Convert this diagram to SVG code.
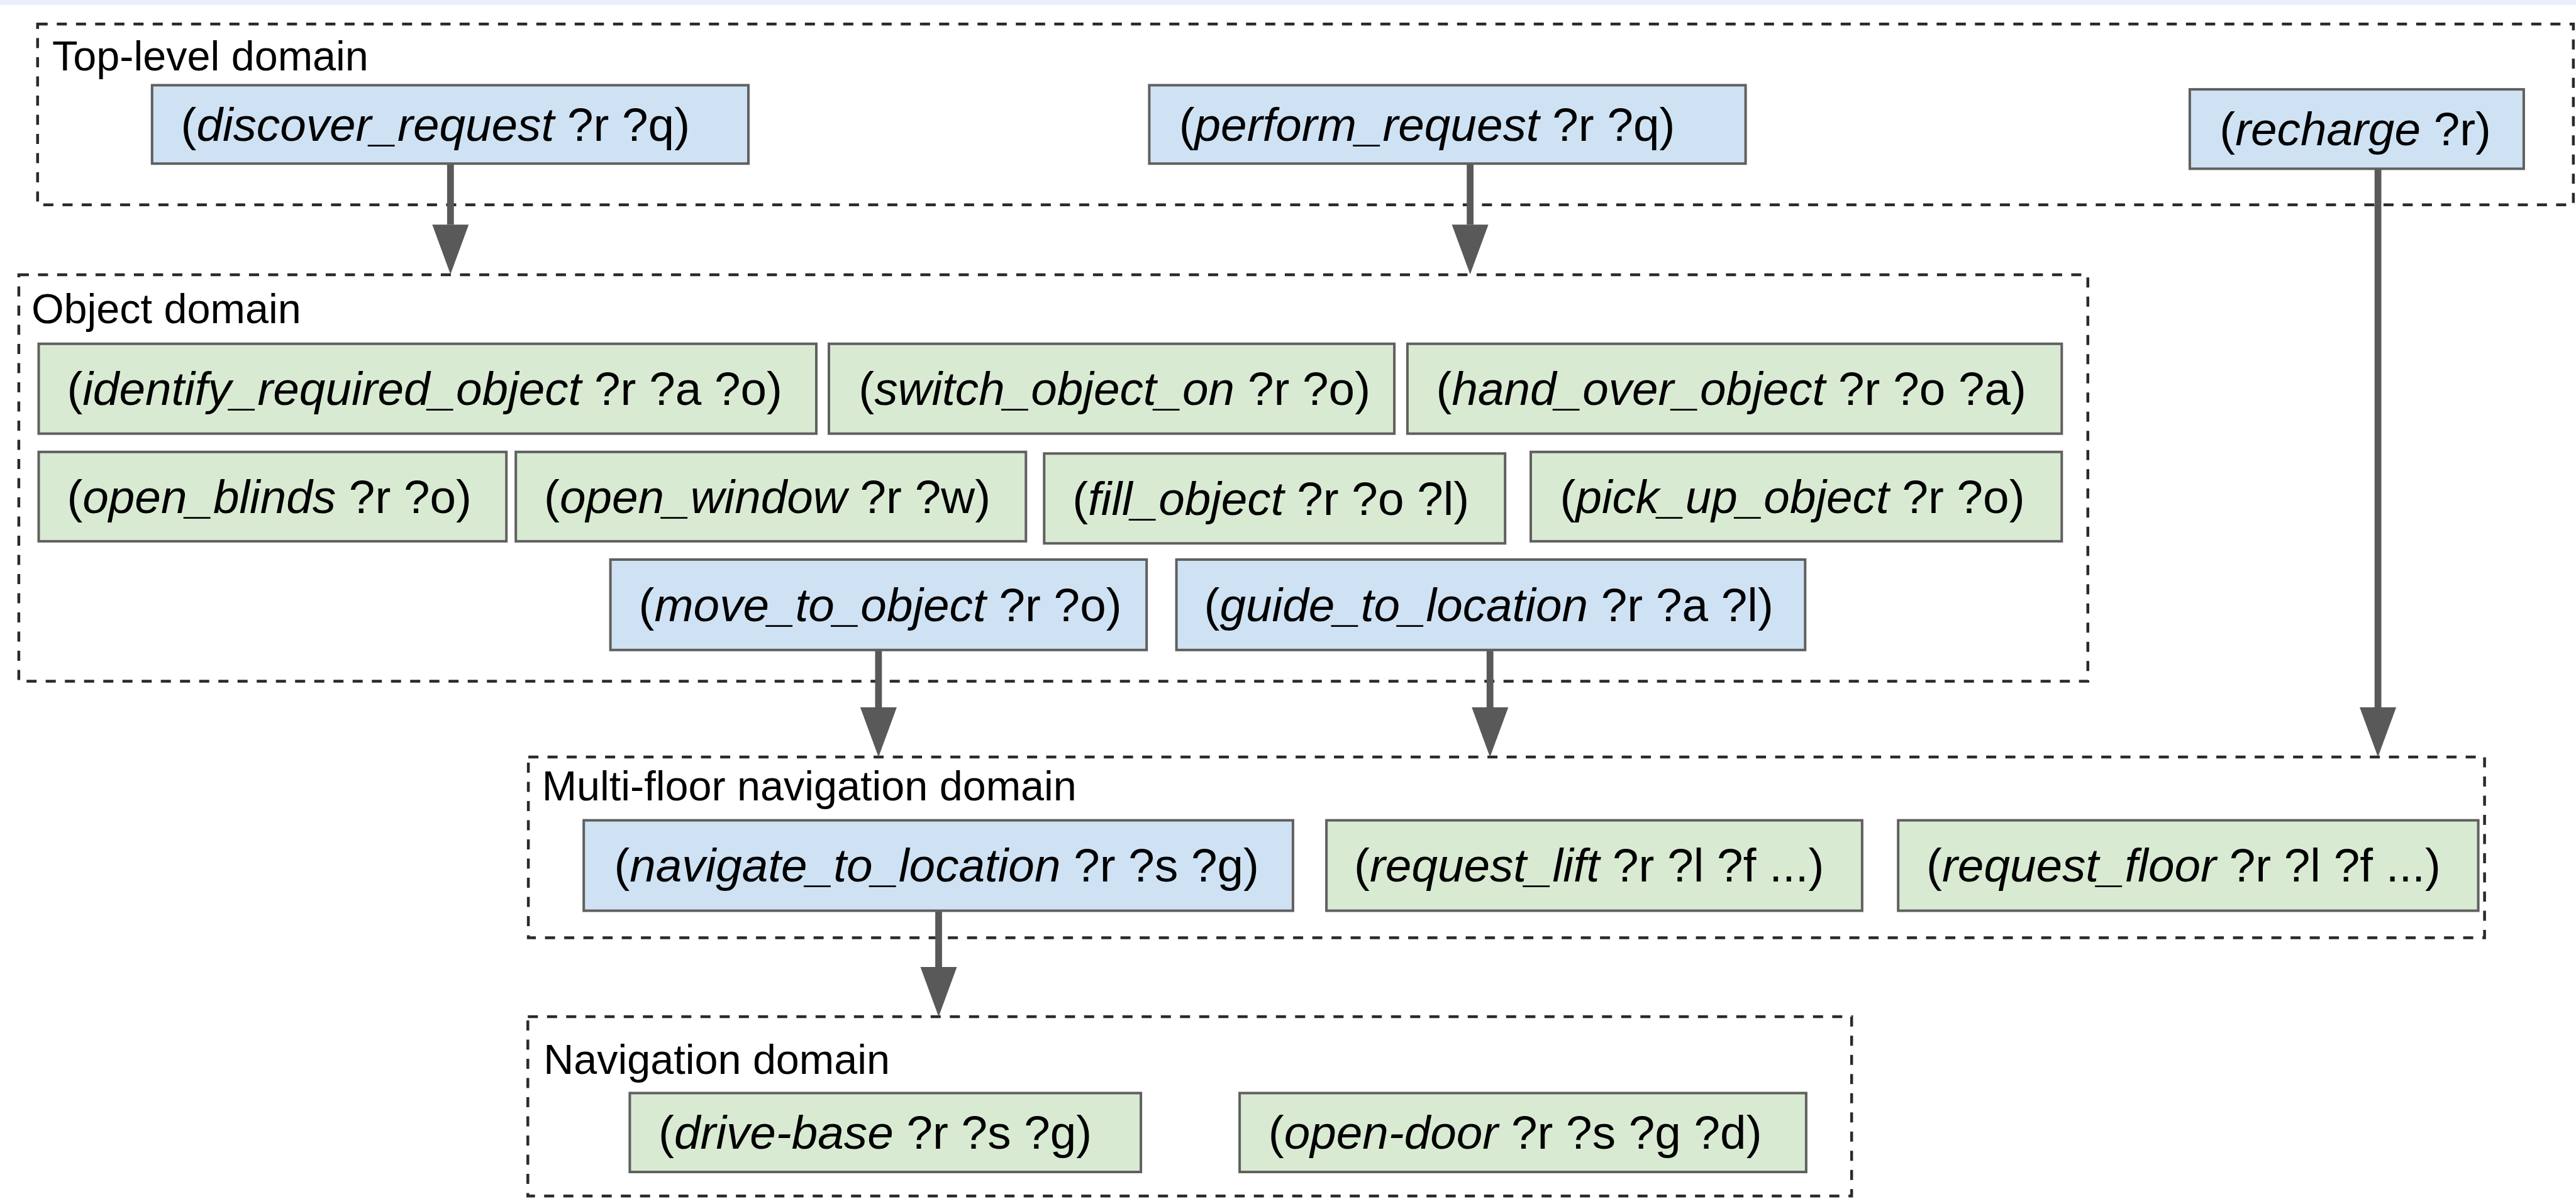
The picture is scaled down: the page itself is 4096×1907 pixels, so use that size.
<svg xmlns="http://www.w3.org/2000/svg" width="4096" height="1907" viewBox="0 0 4096 1907">
<style>
.dom{fill:none;stroke:#2a2a2a;stroke-width:4.5;stroke-dasharray:16 14.5}
.lbl{font-family:"Liberation Sans",Arial,sans-serif;font-size:66.5px;fill:#000}
.nb{fill:#cfe2f3;stroke:#606060;stroke-width:4}
.ng{fill:#d9ead3;stroke:#606060;stroke-width:4}
.nt{font-family:"Liberation Sans",Arial,sans-serif;font-size:74.7px;fill:#000}
.i{font-style:italic}
.ar{stroke:#595959;stroke-width:10.8;fill:none;marker-end:url(#ah)}
</style>
<defs>
<marker id="ah" markerUnits="userSpaceOnUse" markerWidth="80" markerHeight="60" refX="0" refY="29" orient="auto">
<path d="M0,0 L79,29 L0,58 Z" fill="#595959"/>
</marker>
</defs>
<rect x="0" y="0" width="4096" height="8" fill="#e9f0f9"/>
<g id="domains">
<g id="dom-top"><rect class="dom" x="59.8" y="38.2" width="4032" height="287.6"/><text class="lbl" x="83.1" y="112.2">Top-level domain</text></g>
<g id="dom-object"><rect class="dom" x="29.9" y="437.1" width="3289.9" height="646.5"/><text class="lbl" x="49.9" y="513.6">Object domain</text></g>
<g id="dom-multi"><rect class="dom" x="840.1" y="1204.1" width="3110.5" height="287.5"/><text class="lbl" x="861.7" y="1273.1">Multi-floor navigation domain</text></g>
<g id="dom-nav"><rect class="dom" x="839.3" y="1617.1" width="2104.9" height="285.1"/><text class="lbl" x="864.2" y="1707.7">Navigation domain</text></g>
</g>
<g id="connectors">
<path class="ar" d="M716.3,260.2 V357.3"/>
<path class="ar" d="M2337.6,260.2 V357.3"/>
<path class="ar" d="M3781.1,268.4 V1125.1"/>
<path class="ar" d="M1396.9,1033.8 V1125.1"/>
<path class="ar" d="M2369.2,1033.8 V1125.1"/>
<path class="ar" d="M1492.5,1448.4 V1538.1"/>
</g>
<g id="n-discover"><rect class="nb" x="241.8" y="135.5" width="948.2" height="124.7"/><text class="nt" x="287.5" y="223.5">(<tspan class="i">discover_request</tspan> ?r ?q)</text></g>
<g id="n-perform"><rect class="nb" x="1827.4" y="135.5" width="948.2" height="124.7"/><text class="nt" x="1874.7" y="223.5">(<tspan class="i">perform_request</tspan> ?r ?q)</text></g>
<g id="n-recharge"><rect class="nb" x="3481.9" y="142.1" width="531" height="126.3"/><text class="nt" x="3529.3" y="231">(<tspan class="i">recharge</tspan> ?r)</text></g>
<g id="n-identify"><rect class="ng" x="61.5" y="546.8" width="1236.5" height="142.9"/><text class="nt" x="106.4" y="644">(<tspan class="i">identify_required_object</tspan> ?r ?a ?o)</text></g>
<g id="n-switch"><rect class="ng" x="1318" y="546.8" width="899.1" height="142.9"/><text class="nt" x="1365.3" y="644">(<tspan class="i">switch_object_on</tspan> ?r ?o)</text></g>
<g id="n-handover"><rect class="ng" x="2237.9" y="546.8" width="1040.4" height="142.9"/><text class="nt" x="2283.6" y="644">(<tspan class="i">hand_over_object</tspan> ?r ?o ?a)</text></g>
<g id="n-blinds"><rect class="ng" x="61.5" y="718.8" width="743.7" height="142.1"/><text class="nt" x="106.4" y="815.6">(<tspan class="i">open_blinds</tspan> ?r ?o)</text></g>
<g id="n-window"><rect class="ng" x="820.2" y="718.8" width="811.1" height="142.1"/><text class="nt" x="865.1" y="815.6">(<tspan class="i">open_window</tspan> ?r ?w)</text></g>
<g id="n-fill"><rect class="ng" x="1660.3" y="721.3" width="732.9" height="142.9"/><text class="nt" x="1705.2" y="818.5">(<tspan class="i">fill_object</tspan> ?r ?o ?l)</text></g>
<g id="n-pickup"><rect class="ng" x="2434" y="718.8" width="844.3" height="142.1"/><text class="nt" x="2480.5" y="815.6">(<tspan class="i">pick_up_object</tspan> ?r ?o)</text></g>
<g id="n-move"><rect class="nb" x="970.6" y="890" width="852.6" height="143.8"/><text class="nt" x="1015.5" y="987.6">(<tspan class="i">move_to_object</tspan> ?r ?o)</text></g>
<g id="n-guide"><rect class="nb" x="1870.6" y="890" width="999.7" height="143.8"/><text class="nt" x="1914.6" y="987.6">(<tspan class="i">guide_to_location</tspan> ?r ?a ?l)</text></g>
<g id="n-navigate"><rect class="nb" x="928.2" y="1304.7" width="1127.7" height="143.8"/><text class="nt" x="976.4" y="1402.3">(<tspan class="i">navigate_to_location</tspan> ?r ?s ?g)</text></g>
<g id="n-lift"><rect class="ng" x="2109.1" y="1304.7" width="851.8" height="143.8"/><text class="nt" x="2153.1" y="1402.3">(<tspan class="i">request_lift</tspan> ?r ?l ?f ...)</text></g>
<g id="n-floor"><rect class="ng" x="3018.2" y="1304.7" width="922.4" height="143.8"/><text class="nt" x="3063.1" y="1402.3">(<tspan class="i">request_floor</tspan> ?r ?l ?f ...)</text></g>
<g id="n-drive"><rect class="ng" x="1001.4" y="1738.5" width="812.7" height="125.5"/><text class="nt" x="1047.1" y="1827">(<tspan class="i">drive-base</tspan> ?r ?s ?g)</text></g>
<g id="n-door"><rect class="ng" x="1971.1" y="1738.5" width="900.8" height="125.5"/><text class="nt" x="2016.8" y="1827">(<tspan class="i">open-door</tspan> ?r ?s ?g ?d)</text></g>
</svg>
